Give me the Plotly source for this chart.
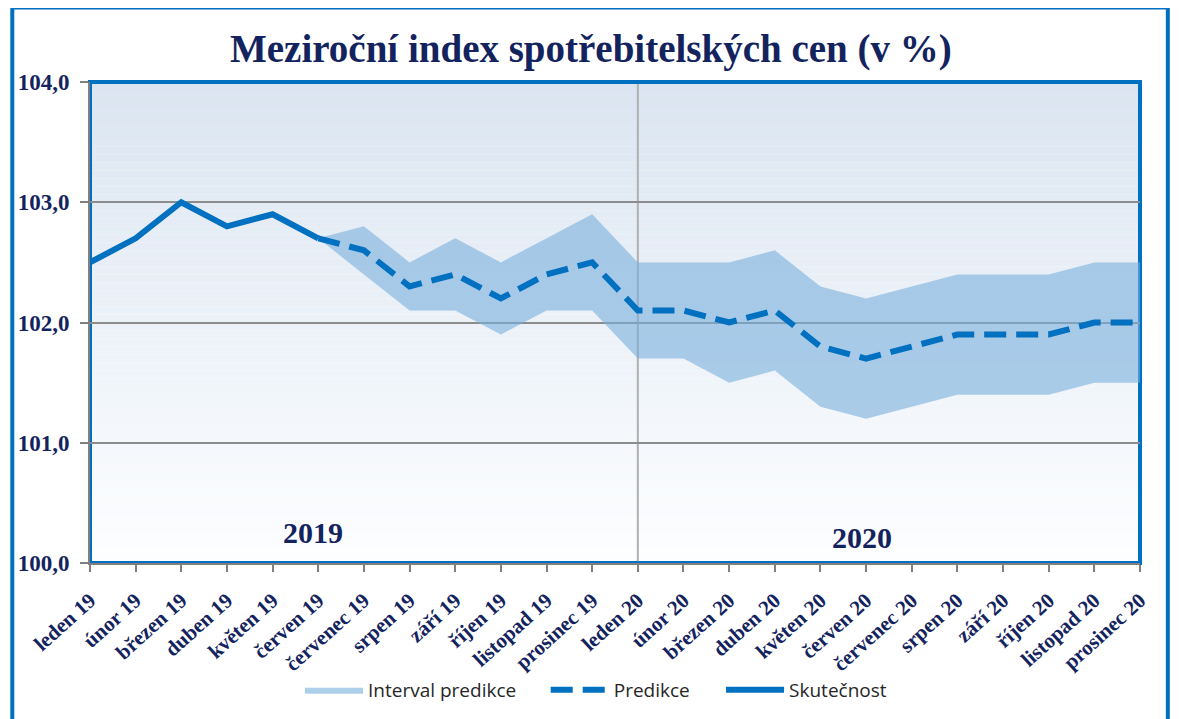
import plotly.graph_objects as go

months = ["leden 19", "únor 19", "březen 19", "duben 19", "květen 19", "červen 19",
          "červenec 19", "srpen 19", "září 19", "říjen 19", "listopad 19", "prosinec 19",
          "leden 20", "únor 20", "březen 20", "duben 20", "květen 20", "červen 20",
          "červenec 20", "srpen 20", "září 20", "říjen 20", "listopad 20", "prosinec 20"]

actual_months = months[:6]
actual = [102.5, 102.7, 103.0, 102.8, 102.9, 102.7]

pred_months = months[5:]
pred = [102.7, 102.6, 102.3, 102.4, 102.2, 102.4, 102.5, 102.1, 102.1, 102.0, 102.1,
        101.8, 101.7, 101.8, 101.9, 101.9, 101.9, 102.0, 102.0]
upper = [102.7, 102.8, 102.5, 102.7, 102.5, 102.7, 102.9, 102.5, 102.5, 102.5, 102.6,
         102.3, 102.2, 102.3, 102.4, 102.4, 102.4, 102.5, 102.5]
lower = [102.7, 102.4, 102.1, 102.1, 101.9, 102.1, 102.1, 101.7, 101.7, 101.5, 101.6,
         101.3, 101.2, 101.3, 101.4, 101.4, 101.4, 101.5, 101.5]

y_ticks = [100, 101, 102, 103, 104]
year_labels = ["2019", "2020"]

BLUE = "#0070C0"
NAVY = "#13235E"
SERIF = "Liberation Serif, Times New Roman, serif"
SANS = "Open Sans, Liberation Sans, sans-serif"

fig = go.Figure()

fig.add_trace(go.Scatter(
    x=pred_months + pred_months[::-1],
    y=upper + lower[::-1],
    fill="toself", fillcolor="rgba(120,175,220,0.6)",
    line=dict(width=0), mode="lines", name="Interval predikce", hoverinfo="skip",
    legend="legend"))

fig.add_trace(go.Scatter(
    x=pred_months, y=pred, mode="lines", name="Predikce",
    line=dict(color=BLUE, width=6, dash="22px,10px"), legend="legend2"))

fig.add_trace(go.Scatter(
    x=actual_months, y=actual, mode="lines", name="Skutečnost",
    line=dict(color=BLUE, width=6), legend="legend3"))

# background gradient strips
shapes = []
n = 60
top = (219, 229, 241)
bot = (253, 254, 255)
for i in range(n):
    t = i / (n - 1)
    c = tuple(int(round(bot[k] + (top[k] - bot[k]) * t)) for k in range(3))
    shapes.append(dict(type="rect", xref="paper", yref="paper",
                       x0=0, x1=1, y0=i / n, y1=(i + 1) / n,
                       fillcolor="rgb(%d,%d,%d)" % c, line=dict(width=0), layer="below"))
# vertical year separator
shapes.append(dict(type="line", xref="x", yref="paper", x0="leden 20", x1="leden 20",
                   y0=0, y1=1, line=dict(color="#B0B0B0", width=2), layer="below"))
# blue plot frame
shapes.append(dict(type="rect", xref="paper", yref="paper", x0=0, x1=1, y0=0, y1=1,
                   line=dict(color=BLUE, width=4), fillcolor="rgba(0,0,0,0)", layer="below"))
# outer frame
shapes.append(dict(type="rect", xref="paper", yref="paper",
                   x0=-0.074, x1=1.0265, y0=-0.35, y1=1.155,
                   line=dict(color=BLUE, width=4), fillcolor="rgba(0,0,0,0)"))

leg_common = dict(orientation="h", y=-0.264, yanchor="middle", xanchor="left",
                  font=dict(family=SANS, size=19, color="#262626"),
                  bgcolor="rgba(0,0,0,0)", itemwidth=58)

fig.update_layout(
    width=1179, height=719,
    margin=dict(l=82, r=47, t=74, b=164),
    paper_bgcolor="white", plot_bgcolor="white",
    separators=",.",
    title=dict(text="<b>Meziroční index spotřebitelských cen (v %)</b>",
               x=0.477, xref="paper", xanchor="center", y=0.944, yref="container",
               yanchor="middle", automargin=False,
               font=dict(family=SERIF, size=39, color=NAVY)),
    shapes=shapes,
    showlegend=True,
    legend=dict(x=0.2, **leg_common),
    legend2=dict(x=0.434, **leg_common),
    legend3=dict(x=0.601, **leg_common),
    annotations=[
        dict(text="<b>%s</b>" % year_labels[0], x="květen 19", xref="x", xshift=40,
             y=100.25, yref="y", showarrow=False,
             font=dict(family=SERIF, size=30, color=NAVY)),
        dict(text="<b>%s</b>" % year_labels[1], x="červen 20", xref="x", xshift=-4,
             y=100.21, yref="y", showarrow=False,
             font=dict(family=SERIF, size=30, color=NAVY)),
    ],
)

fig.update_xaxes(
    type="category", categoryorder="array", categoryarray=months,
    range=[0, len(months) - 1], tickmode="array", tickvals=months,
    tickangle=-42, tickfont=dict(family=SERIF, size=21, color=NAVY, weight="bold"),
    ticks="outside", ticklen=7, tickcolor="#808080", tickwidth=2,
    ticklabelstandoff=8,
    showgrid=False, showline=True, linecolor="#808080", linewidth=2, mirror=False,
    zeroline=False, automargin=False)

fig.update_yaxes(
    range=[100, 104], tickvals=y_ticks, tickformat=".1f",
    tickfont=dict(family=SERIF, size=23, color=NAVY, weight="bold"),
    ticks="outside", ticklen=8, tickcolor="#808080", tickwidth=2,
    ticklabelstandoff=6,
    showgrid=True, gridcolor="#8C8C8C", gridwidth=2,
    showline=True, linecolor="#808080", linewidth=2, mirror=False, zeroline=False,
    automargin=False)

fig.write_html("out.html")
